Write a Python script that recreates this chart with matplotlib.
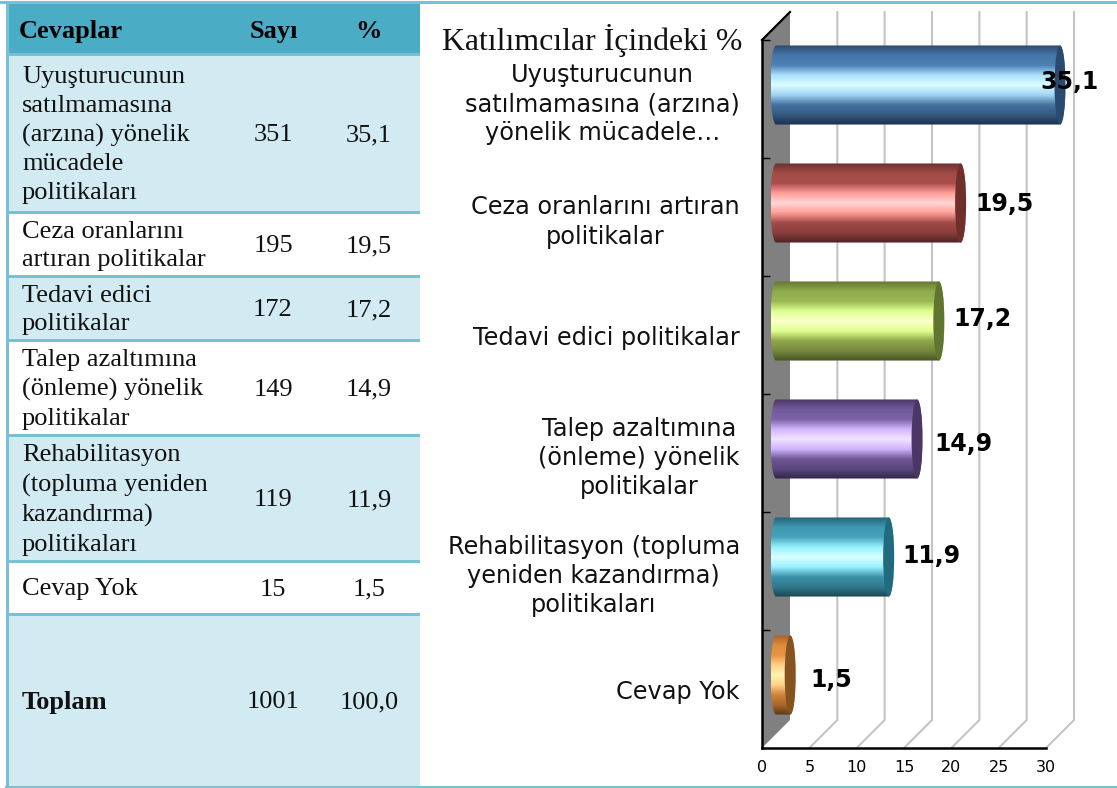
import matplotlib
matplotlib.use("Agg")
import matplotlib.pyplot as plt
import numpy as np
from matplotlib.colors import LinearSegmentedColormap
from matplotlib.patches import Ellipse, PathPatch, Polygon, Rectangle
from matplotlib.path import Path

W, H = 1117, 788

# table content
HEADERS = ["Cevaplar", "Sayı", "%"]
ANSWERS = [
    "Uyuşturucunun\nsatılmamasına\n(arzına) yönelik\nmücadele\npolitikaları",
    "Ceza oranlarını\nartıran politikalar",
    "Tedavi edici\npolitikalar",
    "Talep azaltımına\n(önleme) yönelik\npolitikalar",
    "Rehabilitasyon\n(topluma yeniden\nkazandırma)\npolitikaları",
    "Cevap Yok",
]
COUNTS = ["351", "195", "172", "149", "119", "15"]
PERCENTS = ["35,1", "19,5", "17,2", "14,9", "11,9", "1,5"]
TOTAL = ["Toplam", "1001", "100,0"]

# chart content
CHART_TITLE = "Katılımcılar İçindeki %"
CATEGORIES = [
    "Uyuşturucunun\nsatılmamasına (arzına)\nyönelik mücadele…",
    "Ceza oranlarını artıran\npolitikalar",
    "Tedavi edici politikalar",
    "Talep azaltımına\n(önleme) yönelik\npolitikalar",
    "Rehabilitasyon (topluma\nyeniden kazandırma)\npolitikaları",
    "Cevap Yok",
]
VALUES = [35.1, 19.5, 17.2, 14.9, 11.9, 1.5]
X_TICKS = [0, 5, 10, 15, 20, 25, 30]

# layout of the table, in image pixels
ROW_EDGES = [4, 53, 211, 275, 339, 434, 560, 613, 786]
BORDER = "#78c0d4"
LIGHT = "#d2eaf1"

# gradient stops (top to bottom) and end cap colour per bar
STOPS = [
    ["#2c4a72", "#4675a8", "#4f80b4", "#a8e0ff", "#dcffff", "#a0d4f4", "#44729f", "#35587f", "#1b3050"],
    ["#6a3230", "#a24a47", "#aa4e4b", "#ff9c98", "#ffd8d4", "#ff9c98", "#a24a47", "#8a3e3c", "#4f2322"],
    ["#66782f", "#90ab4c", "#9ab852", "#e0ff90", "#fbffc8", "#e0ff90", "#8ea64a", "#76893c", "#465424"],
    ["#4a3766", "#735a9c", "#7c62a6", "#d0b4ff", "#f0e4ff", "#d0b4ff", "#6f5796", "#5b477c", "#33274a"],
    ["#246478", "#3f98b0", "#46a4bd", "#98f0ff", "#d8ffff", "#98f0ff", "#3c93aa", "#2f788c", "#1a4854"],
    ["#a8642a", "#e08c3c", "#e89444", "#ffd088", "#fff4b0", "#ffd088", "#d08238", "#a8682c", "#5c3a18"],
]
CAP_COLORS = ["#2c4a70", "#6f2f2d", "#5f7530", "#4a3768", "#226a7e", "#855220"]
LABEL_NUDGE = [(-25, 3), (9, -1), (9, 2), (12, -5), (8, 1), (15, -5)]

fig = plt.figure(figsize=(W / 100, H / 100), dpi=100)

# background layer in pixels, holds the table
bg = fig.add_axes([0, 0, 1, 1])
bg.set_xlim(0, W)
bg.set_ylim(H, 0)
bg.axis("off")

serif = "Liberation Serif"
TABLE_RIGHT = 420
TABLE_SIZE = 19

bg.add_patch(Rectangle((0, 1), W, 2.5, color=BORDER, lw=0))
bg.add_patch(Rectangle((5, 786), W, 2.5, color=BORDER, lw=0))
bg.add_patch(Rectangle((6, 1), 3, 787, color=BORDER, lw=0))
bg.add_patch(Rectangle((9, ROW_EDGES[0]), TABLE_RIGHT - 9, ROW_EDGES[1] - ROW_EDGES[0], color="#4bacc6", lw=0))

rows = ANSWERS + [TOTAL[0]]
counts = COUNTS + [TOTAL[1]]
pcts = PERCENTS + [TOTAL[2]]
for i, (a, c, p) in enumerate(zip(rows, counts, pcts)):
    y0, y1 = ROW_EDGES[i + 1], ROW_EDGES[i + 2]
    bg.add_patch(Rectangle((9, y0), TABLE_RIGHT - 9, y1 - y0, color=LIGHT if i % 2 == 0 else "white", lw=0))
    bg.add_patch(Rectangle((9, y0), TABLE_RIGHT - 9, 3, color=BORDER, lw=0))
    ym = (y0 + y1) / 2 + 3
    last = i == len(rows) - 1
    bg.text(22, ym, a, family=serif, fontsize=TABLE_SIZE, va="center", ha="left", linespacing=1.4,
            fontweight="bold" if last else "normal", color="#111111")
    bg.text(273, ym, c, family=serif, fontsize=TABLE_SIZE, va="center", ha="center", color="#111111")
    bg.text(369, ym, p, family=serif, fontsize=TABLE_SIZE, va="center", ha="center", color="#111111")

bg.text(19, 31, HEADERS[0], family=serif, fontsize=TABLE_SIZE, fontweight="bold", va="center", ha="left")
bg.text(274, 31, HEADERS[1], family=serif, fontsize=TABLE_SIZE, fontweight="bold", va="center", ha="center")
bg.text(369, 31, HEADERS[2], family=serif, fontsize=TABLE_SIZE, fontweight="bold", va="center", ha="center")
bg.text(592, 40, CHART_TITLE, family=serif, fontsize=22.9, va="center", ha="center", color="#111111")

# chart axes: the front plane of the 3-D box
ax = fig.add_axes([762 / W, (H - 748) / H, 284 / W, 708 / H])
ax.patch.set_alpha(0)
DX, DY = 28 / 284 * 30, 28 / 118
BOTTOM, TOP = 5.5, -0.5
RX = 5.5 / 284 * 30
HALF = 0.335

# back wall, floor and grid
ax.add_patch(Polygon([(0, BOTTOM), (DX, BOTTOM - DY), (DX, TOP - DY), (0, TOP)],
                     closed=True, facecolor="#808080", edgecolor="none", clip_on=False, zorder=1))
ax.plot([0, DX], [TOP, TOP - DY], color="black", lw=1.6, clip_on=False, zorder=2)
for k in X_TICKS[1:]:
    ax.plot([k, k + DX, k + DX], [BOTTOM, BOTTOM - DY, TOP - DY], color="#c4c4c4", lw=1.5,
            clip_on=False, zorder=1, solid_joinstyle="miter")

# bars
for i, v in enumerate(VALUES):
    x0 = DX / 2
    x1 = min(v, X_TICKS[-1]) + DX / 2
    yc = i - DY / 2
    cmap = LinearSegmentedColormap.from_list(f"bar{i}", STOPS[i])
    t = np.linspace(0, 1, 200)[:, None]
    im = ax.imshow(t, cmap=cmap, aspect="auto", extent=(x0 - RX, x1 + RX, yc + HALF, yc - HALF),
                   interpolation="bilinear", zorder=3)
    th = np.linspace(np.pi / 2, 3 * np.pi / 2, 40)
    px = np.r_[x0 + RX * np.cos(th), x1 - RX * np.cos(th)]
    py = np.r_[yc - HALF * np.sin(th), yc + HALF * np.sin(th)]
    clip = PathPatch(Path(np.c_[px, py]), transform=ax.transData)
    im.set_clip_path(clip)
    im.set_clip_box(fig.bbox)
    ax.add_patch(Ellipse((x1, yc), 2 * RX, 2 * HALF, facecolor=CAP_COLORS[i], edgecolor="none",
                         clip_on=False, zorder=4))
    dx, dy = LABEL_NUDGE[i]
    ax.annotate(f"{v:.1f}".replace(".", ","), xy=(x1 + RX, yc), xytext=(dx * 0.72, dy * 0.72),
                textcoords="offset points", fontsize=17, fontweight="bold", ha="left", va="center",
                annotation_clip=False, zorder=5)

ax.set_xlim(0, X_TICKS[-1])
ax.set_ylim(BOTTOM, TOP)
for side in ["top", "right"]:
    ax.spines[side].set_visible(False)
for side in ["left", "bottom"]:
    ax.spines[side].set_linewidth(1.8)
    ax.spines[side].set_zorder(6)

ax.set_xticks(X_TICKS)
ax.tick_params(axis="x", length=0, labelsize=11.5, pad=9)
ax.set_yticks(np.arange(TOP, BOTTOM))
ax.set_yticks(np.arange(len(CATEGORIES)), minor=True)
ax.set_yticklabels([])
ax.set_yticklabels(CATEGORIES, minor=True, fontsize=17.3, color="#111111", multialignment="center",
                   linespacing=1.27)
ax.tick_params(axis="y", which="major", direction="in", length=6, width=1, left=True)
ax.tick_params(axis="y", which="minor", length=0, pad=16)

fig.savefig("out.png", dpi=100)
